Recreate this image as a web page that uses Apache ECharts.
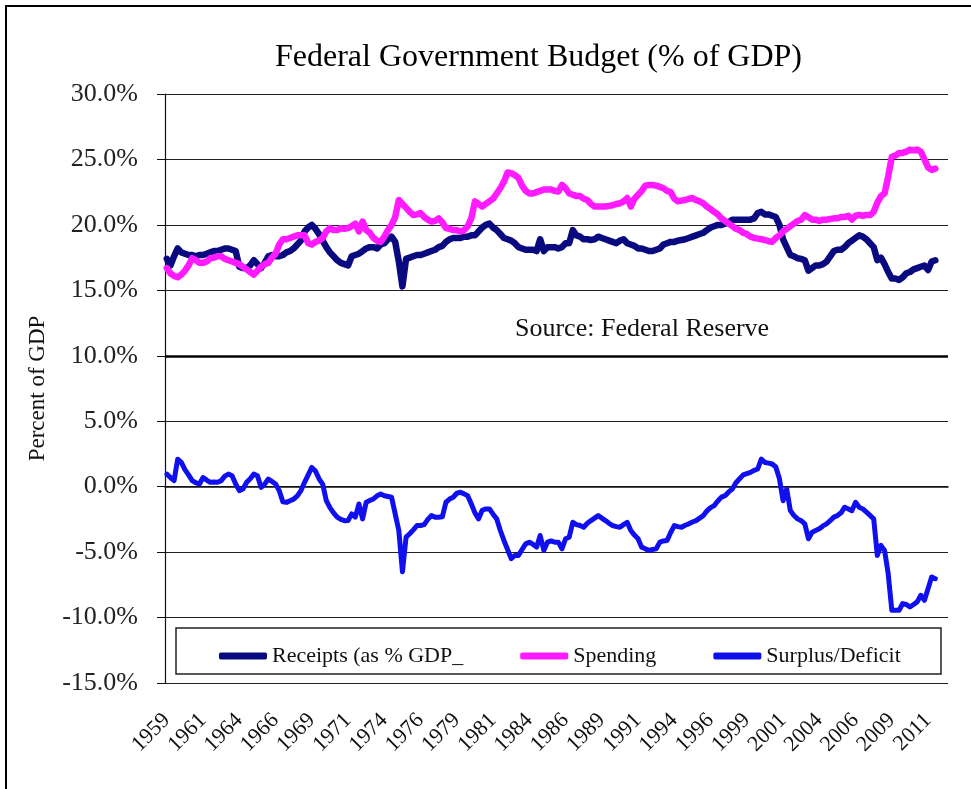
<!DOCTYPE html>
<html>
<head>
<meta charset="utf-8">
<script src="https://cdn.jsdelivr.net/npm/echarts@6/dist/echarts.min.js"></script>
<style>
  html, body { margin: 0; padding: 0; background: #fff; }
  #chart { width: 971px; height: 789px; }
</style>
</head>
<body>
<div id="chart"></div>
<script>
// quarterly, 1959 Q1 .. 2012 Q1 (axis runs on to 2012 Q4)
const tickYears = ['1959', '1961', '1964', '1966', '1969', '1971', '1974', '1976', '1979', '1981', '1984',
  '1986', '1989', '1991', '1994', '1996', '1999', '2001', '2004', '2006', '2009', '2011'];

const receipts = [
  17.4, 16.9, 17.6, 18.2, 17.9, 17.8, 17.7, 17.7, 17.6, 17.7,
  17.7, 17.8, 17.9, 18.0, 18.0, 18.1, 18.2, 18.2, 18.1, 18.0,
  16.8, 16.7, 16.7, 16.9, 17.3, 17.0, 16.7, 17.1, 17.6, 17.7,
  17.6, 17.6, 17.7, 17.9, 18.0, 18.2, 18.5, 18.8, 19.5, 19.8,
  20.0, 19.7, 19.3, 18.8, 18.3, 17.9, 17.6, 17.3, 17.1, 17.0,
  16.9, 17.6, 17.7, 17.8, 18.0, 18.2, 18.3, 18.3, 18.2, 18.5,
  18.6, 18.9, 19.1, 18.7, 17.2, 15.3, 17.4, 17.5, 17.6, 17.7,
  17.7, 17.8, 17.9, 18.0, 18.1, 18.3, 18.4, 18.7, 18.9, 19.0,
  19.0, 19.0, 19.1, 19.1, 19.2, 19.2, 19.5, 19.8, 20.0, 20.1,
  19.8, 19.6, 19.3, 19.0, 18.9, 18.8, 18.6, 18.3, 18.2, 18.1,
  18.1, 18.1, 18.0, 18.9, 18.0, 18.3, 18.3, 18.3, 18.2, 18.3,
  18.6, 18.6, 19.6, 19.2, 19.1, 18.9, 18.9, 18.85, 18.9, 19.1,
  19.0, 18.9, 18.8, 18.7, 18.6, 18.8, 18.9, 18.6, 18.5, 18.4,
  18.2, 18.2, 18.1, 18.0, 18.0, 18.1, 18.2, 18.5, 18.6, 18.7,
  18.7, 18.8, 18.85, 18.9, 19.0, 19.1, 19.2, 19.3, 19.4, 19.6,
  19.8, 19.9, 20.0, 20.0, 20.1, 20.2, 20.4, 20.4, 20.4, 20.4,
  20.4, 20.4, 20.5, 20.9, 21.0, 20.8, 20.8, 20.7, 20.6, 20.0,
  18.9, 18.3, 17.7, 17.6, 17.45, 17.4, 17.3, 16.5, 16.7, 16.9,
  16.9, 17.0, 17.2, 17.6, 18.0, 18.1, 18.1, 18.3, 18.6, 18.8,
  19.0, 19.2, 19.1, 18.9, 18.6, 18.3, 17.3, 17.5, 17.0, 16.4,
  15.9, 15.9, 15.8, 16.0, 16.3, 16.4, 16.6, 16.7, 16.8, 16.9,
  16.55, 17.2, 17.3
];

const spending = [
  16.7, 16.3, 16.1, 16.0, 16.2, 16.5, 16.9, 17.45, 17.3, 17.1,
  17.1, 17.2, 17.45, 17.5, 17.6, 17.6, 17.4, 17.3, 17.2, 17.1,
  17.0, 16.8, 16.6, 16.4, 16.2, 16.5, 16.8, 17.0, 17.1, 17.5,
  17.8, 18.5, 18.9, 18.9, 19.0, 19.1, 19.2, 19.2, 19.2, 18.6,
  18.5, 18.7, 18.8, 19.0, 19.5, 19.75, 19.6, 19.6, 19.75, 19.7,
  19.75, 19.9, 20.1, 19.5, 20.25, 19.6, 19.4, 19.0, 18.8, 18.7,
  19.1, 19.6, 20.0, 20.6, 21.9, 21.6, 21.3, 21.0, 20.75, 20.8,
  20.9, 20.6, 20.4, 20.25, 20.3, 20.5, 20.2, 19.75, 19.7, 19.6,
  19.6, 19.5, 19.6, 19.9, 20.5, 21.8, 21.6, 21.4, 21.6, 21.8,
  22.0, 22.4, 22.8, 23.3, 24.0, 23.95, 23.8, 23.6, 23.0, 22.6,
  22.4, 22.4, 22.5, 22.6, 22.7, 22.7, 22.7, 22.6, 22.55, 23.05,
  22.8, 22.4, 22.3, 22.2, 22.2, 22.0, 21.9, 21.6, 21.4, 21.4,
  21.4, 21.4, 21.45, 21.5, 21.6, 21.65, 21.8, 22.05, 21.4, 22.0,
  22.3, 22.6, 23.0, 23.05, 23.05, 23.0, 22.9, 22.8, 22.6, 22.5,
  22.0, 21.8, 21.85, 21.9, 22.0, 22.05, 21.9, 21.8, 21.65, 21.4,
  21.2, 21.0, 20.8, 20.5, 20.3, 20.1, 19.9, 19.7, 19.6, 19.4,
  19.3, 19.1, 19.0, 18.95, 18.9, 18.85, 18.75, 18.7, 19.0, 19.2,
  19.5, 19.7, 19.9, 20.1, 20.3, 20.4, 20.75, 20.6, 20.4, 20.4,
  20.3, 20.4, 20.4, 20.45, 20.5, 20.5, 20.6, 20.6, 20.7, 20.4,
  20.7, 20.75, 20.7, 20.75, 20.75, 21.0, 21.7, 22.2, 22.4, 23.7,
  25.2, 25.3, 25.5, 25.5, 25.6, 25.75, 25.7, 25.75, 25.6, 25.0,
  24.4, 24.2, 24.3
];

const surplus = [
  0.96, 0.7, 0.46, 2.1, 1.85, 1.3, 0.9, 0.46, 0.3, 0.2,
  0.7, 0.5, 0.33, 0.35, 0.33, 0.46, 0.8, 0.96, 0.84, 0.2,
  -0.3, -0.18, 0.33, 0.6, 0.96, 0.84, -0.05, 0.2, 0.58, 0.4,
  0.2, -0.3, -1.15, -1.2, -1.07, -0.95, -0.7, -0.3, 0.33, 0.9,
  1.47, 1.2, 0.6, 0.2, -1.07, -1.6, -2.0, -2.33, -2.5, -2.6,
  -2.59, -2.08, -2.33, -1.32, -2.46, -1.19, -1.05, -0.94, -0.7, -0.56,
  -0.69, -0.75, -0.81, -2.08, -3.35, -6.5, -3.86, -3.6, -3.3, -2.97,
  -2.97, -2.9, -2.5, -2.21, -2.33, -2.33, -2.3, -1.19, -0.95, -0.81,
  -0.5, -0.43, -0.55, -0.69, -1.32, -2.0, -2.46, -1.8, -1.7, -1.7,
  -2.1, -2.46, -3.35, -4.11, -4.8, -5.5, -5.25, -5.25, -4.8, -4.37,
  -4.24, -4.4, -4.62, -3.73, -4.87, -4.24, -4.15, -4.24, -4.24, -4.75,
  -3.98, -3.86, -2.72, -2.9, -2.97, -3.1, -2.8, -2.59, -2.4, -2.21,
  -2.4, -2.59, -2.8, -2.97, -3.05, -3.1, -2.9, -2.72, -3.35, -3.7,
  -3.98, -4.62, -4.75, -4.87, -4.8, -4.75, -4.24, -4.15, -4.11, -3.5,
  -2.97, -3.05, -3.1, -2.95, -2.84, -2.7, -2.59, -2.4, -2.21, -1.85,
  -1.6, -1.45, -1.1, -0.8, -0.69, -0.4, -0.18, 0.3, 0.6, 0.9,
  1.0, 1.09, 1.25, 1.35, 2.1, 1.85, 1.8, 1.73, 1.5, 0.6,
  -1.07, -0.18, -1.83, -2.2, -2.46, -2.6, -2.84, -3.98, -3.48, -3.35,
  -3.22, -3.0, -2.84, -2.6, -2.33, -2.21, -2.0, -1.57, -1.7, -1.83,
  -1.19, -1.57, -1.7, -1.95, -2.2, -2.46, -5.25, -4.49, -4.87, -6.65,
  -9.44, -9.44, -9.44, -8.93, -9.0, -9.19, -9.0, -8.8, -8.3, -8.68,
  -7.79, -6.9, -7.03
];

let quarters = [];
for (let y = 1959; y <= 2012; y++) {
  for (let q = 1; q <= 4; q++) quarters.push(y + ' Q' + q);
}

const serif = '"Liberation Serif", "DejaVu Serif", serif';

let chart = echarts.init(document.getElementById('chart'));
let option = {
  animation: false,
  backgroundColor: '#fff',
  title: {
    text: 'Federal Government Budget (% of GDP)',
    left: 270,
    top: 37,
    textStyle: { fontFamily: serif, fontSize: 32, fontWeight: 'normal', color: '#000' }
  },
  legend: {
    left: 214,
    top: 640,
    itemWidth: 48,
    itemHeight: 7,
    itemGap: 57,
    icon: 'roundRect',
    data: ['Receipts (as % GDP_', 'Spending', 'Surplus/Deficit'],
    textStyle: { fontFamily: serif, fontSize: 22, color: '#111' }
  },
  grid: { left: 165, right: 23, top: 94, bottom: 106 },
  xAxis: [
    {
      type: 'category',
      data: quarters,
      boundaryGap: true,
      axisLine: { onZero: true, lineStyle: { color: '#111', width: 1.5 } },
      axisTick: { interval: 9, length: 9, lineStyle: { color: '#111' } },
      axisLabel: { show: false },
      splitLine: { show: false }
    },
    {
      type: 'category',
      data: quarters,
      boundaryGap: true,
      position: 'bottom',
      axisLine: { show: false, onZero: false },
      axisTick: { show: false },
      axisLabel: {
        interval: 9,
        rotate: 45,
        margin: 34,
        fontFamily: serif,
        fontSize: 22,
        color: '#111',
        formatter: (v, idx) => tickYears[idx / 10] || ''
      }
    }
  ],
  yAxis: {
    type: 'value',
    min: -15,
    max: 30,
    interval: 5,
    name: 'Percent of GDP',
    nameLocation: 'middle',
    nameGap: 116,
    nameTextStyle: { fontFamily: serif, fontSize: 23, color: '#111' },
    axisLine: { show: true, lineStyle: { color: '#111', width: 1.2 } },
    axisTick: { show: true, length: 8, lineStyle: { color: '#111' } },
    axisLabel: {
      margin: 27,
      fontFamily: serif,
      fontSize: 26,
      color: '#222',
      formatter: v => v.toFixed(1) + '%'
    },
    splitLine: { lineStyle: { color: '#222', width: 1.2 } }
  },
  graphic: [
    {
      type: 'rect',
      shape: { x: 6, y: 6, width: 1000, height: 1000 },
      style: { fill: 'none', stroke: '#000', lineWidth: 2 },
      silent: true
    },
    {
      type: 'rect',
      shape: { x: 176, y: 628, width: 765, height: 46 },
      style: { fill: '#fff', stroke: '#222', lineWidth: 1.5 },
      z: 3,
      silent: true
    },
    {
      type: 'text',
      left: 515,
      top: 316,
      style: { text: 'Source: Federal Reserve', fontFamily: serif, fontSize: 26, fill: '#111' },
      silent: true
    }
  ],
  series: [
    {
      name: 'Receipts (as % GDP_',
      type: 'line',
      data: receipts,
      showSymbol: false,
      color: '#0a0a80',
      lineStyle: { width: 6.5, cap: 'round', join: 'round' },
      markLine: {
        silent: true,
        symbol: 'none',
        label: { show: false },
        lineStyle: { color: '#000', width: 2.5, type: 'solid' },
        data: [{ yAxis: 10 }]
      }
    },
    {
      name: 'Spending',
      type: 'line',
      data: spending,
      showSymbol: false,
      color: '#ff1aff',
      lineStyle: { width: 6.5, cap: 'round', join: 'round' }
    },
    {
      name: 'Surplus/Deficit',
      type: 'line',
      data: surplus,
      showSymbol: false,
      color: '#1010ee',
      lineStyle: { width: 5, cap: 'round', join: 'round' }
    }
  ]
};
chart.setOption(option);
</script>
</body>
</html>
